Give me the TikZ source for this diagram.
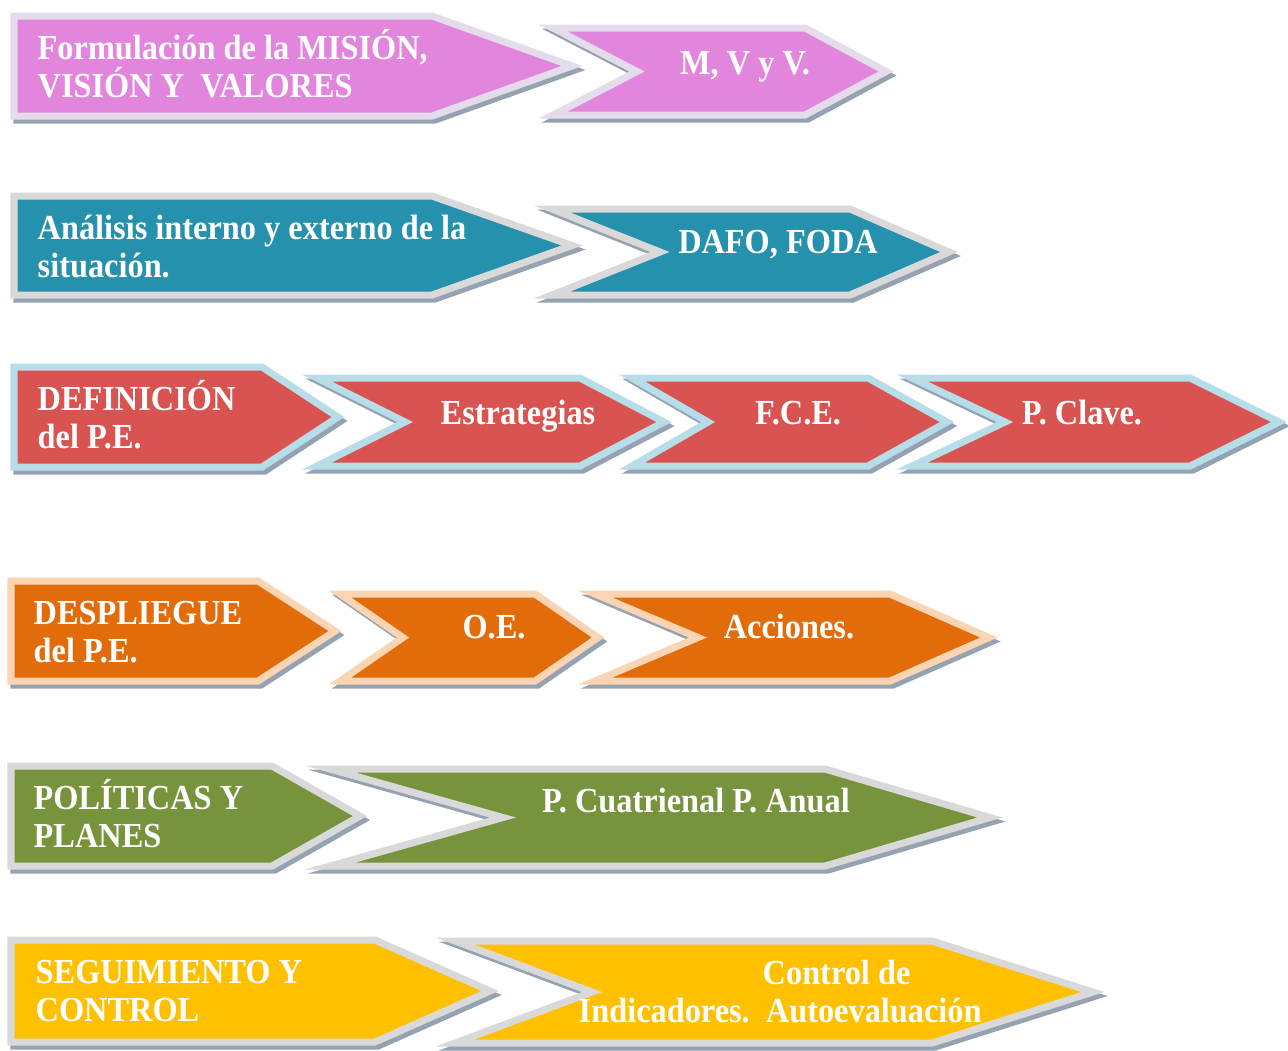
\documentclass[tikz,border=0pt]{standalone}
\usepackage{fontspec}
\newfontfamily\rotfont{Liberation Serif}[FakeStretch=0.92]
\definecolor{rosa}{HTML}{E286DD}
\definecolor{lila}{HTML}{E4DCEA}
\definecolor{turquesa}{HTML}{2591AD}
\definecolor{rojo}{HTML}{D95350}
\definecolor{celeste}{HTML}{B7DDE8}
\definecolor{naranja}{HTML}{E36C0A}
\definecolor{melocoton}{HTML}{FBD4B4}
\definecolor{oliva}{HTML}{77933C}
\definecolor{ambar}{HTML}{FFC000}
\definecolor{gris}{HTML}{D9D9D9}
\definecolor{pizarra}{HTML}{95A2B2}
\tikzset{
  borde/.style={line width=2pt, line join=miter},
  sombra/.style={borde, fill=pizarra, draw=pizarra},
  rotulo/.style={text=white, inner sep=0pt, align=left,
    font=\rotfont\bfseries\fontsize{10}{10.6}\selectfont},
}
% pentagon: fill, border, left, top, bottom, body end, tip
\newcommand{\punta}[7]{%
  \filldraw[sombra, shift={(3,4)}] (#3,#4) -- (#6,#4) -- (#7,{(#4+#5)/2}) -- (#6,#5) -- (#3,#5) -- cycle;
  \filldraw[borde, fill=#1, draw=#2] (#3,#4) -- (#6,#4) -- (#7,{(#4+#5)/2}) -- (#6,#5) -- (#3,#5) -- cycle;}
% chevron: fill, border, left, top, bottom, notch, body end, tip
\newcommand{\galon}[8]{%
  \filldraw[sombra, shift={(3,4)}] (#3,#4) -- (#7,#4) -- (#8,{(#4+#5)/2}) -- (#7,#5) -- (#3,#5) -- (#6,{(#4+#5)/2}) -- cycle;
  \filldraw[borde, fill=#1, draw=#2] (#3,#4) -- (#7,#4) -- (#8,{(#4+#5)/2}) -- (#7,#5) -- (#3,#5) -- (#6,{(#4+#5)/2}) -- cycle;}
\begin{document}
\begin{tikzpicture}[x=0.01cm, y=-0.01cm]
  \useasboundingbox (0,0) rectangle (1288,1050);
  % mision
  \punta{rosa}{lila}{14}{16}{116}{432}{572}
  \galon{rosa}{lila}{553}{28}{115}{637}{805}{886}
  \node[rotulo, anchor=base west] (mision) at (37,97) {Formulación de la MISIÓN,\\VISIÓN Y\ \ VALORES};
  \node[rotulo, anchor=base] (mvv) at (745,74) {M, V y V.};
  % analisis
  \punta{turquesa}{gris}{14}{196}{295}{432}{572}
  \galon{turquesa}{gris}{552}{209}{295}{660}{850}{949}
  \node[rotulo, anchor=base west] (analisis) at (37,277) {Análisis interno y externo de la\\situación.};
  \node[rotulo, anchor=base] (dafo) at (778,253) {DAFO, FODA};
  % definicion
  \punta{rojo}{celeste}{14}{367}{467}{262}{338}
  \foreach \l/\n/\b/\t in {317/405/580/664, 632/708/868/947, 912/1005/1190/1279}
    \galon{rojo}{celeste}{\l}{378}{466}{\n}{\b}{\t};
  \node[rotulo, anchor=base west] (definicion) at (37,448) {DEFINICIÓN\\del P.E.};
  \node[rotulo, anchor=base] (estrategias) at (518,424) {Estrategias};
  \node[rotulo, anchor=base] (fce) at (798,424) {F.C.E.};
  \node[rotulo, anchor=base] (clave) at (1082,424) {P. Clave.};
  % despliegue
  \punta{naranja}{melocoton}{11}{581}{681}{258}{335}
  \galon{naranja}{melocoton}{340}{594}{681}{403}{535}{598}
  \galon{naranja}{melocoton}{595}{594}{681}{698}{890}{989}
  \node[rotulo, anchor=base west] (despliegue) at (33,662) {DESPLIEGUE\\del P.E.};
  \node[rotulo, anchor=base] (oe) at (494,638) {O.E.};
  \node[rotulo, anchor=base] (acciones) at (789,638) {Acciones.};
  % politicas
  \punta{oliva}{gris}{11}{766}{866}{272}{360}
  \galon{oliva}{gris}{330}{769}{866}{503}{825}{990}
  \node[rotulo, anchor=base west] (politicas) at (33,847) {POLÍTICAS Y\\PLANES};
  \node[rotulo, anchor=base] (planes) at (696,812) {P. Cuatrienal P. Anual};
  % seguimiento
  \punta{ambar}{gris}{11}{940}{1042}{375}{490}
  \galon{ambar}{gris}{455}{941}{1043}{592}{932}{1093}
  \node[rotulo, anchor=base west] (seguimiento) at (35,1021) {SEGUIMIENTO Y\\CONTROL};
  \node[rotulo, anchor=base west] (control) at (762,984) {Control de};
  \node[rotulo, anchor=base west] (indicadores) at (578,1022) {Indicadores.\ \ Autoevaluación};
\end{tikzpicture}
\end{document}
